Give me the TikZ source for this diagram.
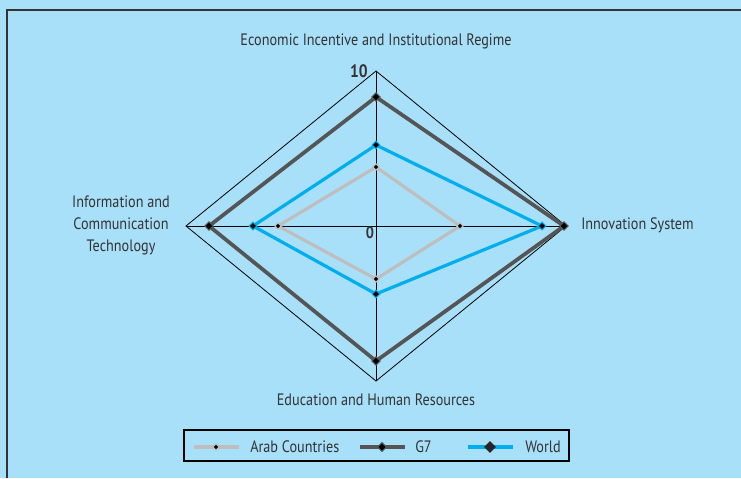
\documentclass[tikz,border=0pt]{standalone}
\usepackage{fontspec}
\setmainfont{PT Sans}[FakeStretch=0.86]
\usetikzlibrary{shapes.geometric}
\definecolor{bg}{HTML}{A8E0F9}
\definecolor{arabc}{HTML}{BEBEBE}
\definecolor{g7c}{HTML}{555555}
\definecolor{worldc}{HTML}{00AEEF}
\definecolor{txt}{HTML}{333333}
\tikzset{
  lbl/.style={font=\fontsize{12.4pt}{16.5pt}\selectfont, text=txt, inner sep=0},
  axisline/.style={black, line width=0.6pt},
  mk/.style={diamond, fill=black, inner sep=0, minimum size=5pt, draw=#1, line width=0.8pt},
  series/.style={line width=2.4pt, line join=miter},
}
\begin{document}
\begin{tikzpicture}[x=0.75pt, y=-0.75pt]
\fill[bg] (0,0) rectangle (741,478);
\useasboundingbox (0,0) rectangle (741,478);
% frame
\draw[txt, line width=1.5pt] (7,478) -- (7,10) -- (741,10);
% axes
\coordinate (T) at (376,71);
\coordinate (R) at (566,226);
\coordinate (B) at (376,381);
\coordinate (L) at (186,226);
\coordinate (O) at (376,226);
\draw[axisline] (T) -- (R) -- (B) -- (L) -- cycle;
\draw[axisline] (L) -- (R);
\draw[axisline] (T) -- (B);
% series
\coordinate (aT) at (376,167); \coordinate (aR) at (460,226);
\coordinate (aB) at (376,279); \coordinate (aL) at (278,226);
\coordinate (wT) at (376,145); \coordinate (wR) at (542,226);
\coordinate (wB) at (376,294); \coordinate (wL) at (253,226);
\coordinate (gT) at (376,97);  \coordinate (gR) at (564,226);
\coordinate (gB) at (376,361); \coordinate (gL) at (209,226);
\draw[series, arabc] (aT) -- (aR) -- (aB) -- (aL) -- cycle;
\draw[series, worldc] (wT) -- (wR) -- (wB) -- (wL) -- cycle;
\draw[series, g7c, line width=2.8pt] (gT) -- (gR) -- (gB) -- (gL) -- cycle;
\foreach \p in {aT,aR,aB,aL} \node[mk=arabc, minimum size=5pt] at (\p) {};
\foreach \p in {wT,wR,wB,wL} \node[mk=worldc, minimum size=6pt] at (\p) {};
\foreach \p in {gT,gR,gB,gL} \node[mk=g7c, minimum size=6.5pt] at (\p) {};
% labels
\node[lbl] (ltop) at (376,41) {Economic Incentive and Institutional Regime};
\node[lbl, anchor=west] (lright) at (581,225) {Innovation System};
\node[lbl, align=center] (lleft) at (121,225) {Information and\\Communication\\Technology};
\node[lbl] (lbot) at (376,400) {Education and Human Resources};
\node[lbl, font=\fontsize{13.5pt}{15pt}\bfseries, anchor=east] (ten) at (368,71) {10};
\node[lbl, font=\fontsize{12.5pt}{15pt}\bfseries] (zero) at (370,233) {0};
% legend
\node[draw=black, line width=0.8pt, minimum width=385*0.75pt, minimum height=31*0.75pt, inner sep=0] (leg) at (376.5,445.5) {};
\coordinate (la1) at (194,447); \coordinate (la2) at (239,447);
\coordinate (lg1) at (360,447); \coordinate (lg2) at (405,447);
\coordinate (lw1) at (468,447); \coordinate (lw2) at (513,447);
\draw[series, arabc] (la1) -- (la2);
\draw[series, g7c] (lg1) -- (lg2);
\draw[series, worldc] (lw1) -- (lw2);
\node[mk=arabc, minimum size=5pt] (ma) at (216,447) {};
\node[mk=g7c, minimum size=7pt] (mg) at (382,447) {};
\node[diamond, fill=black!85, inner sep=0, minimum size=9pt] (mw) at (490,447) {};
\node[lbl, anchor=west] (ta) at (250,447) {Arab Countries};
\node[lbl, anchor=west] (tg) at (415,447) {G7};
\node[lbl, anchor=west] (tw) at (525,447) {World};
\end{tikzpicture}
\end{document}
